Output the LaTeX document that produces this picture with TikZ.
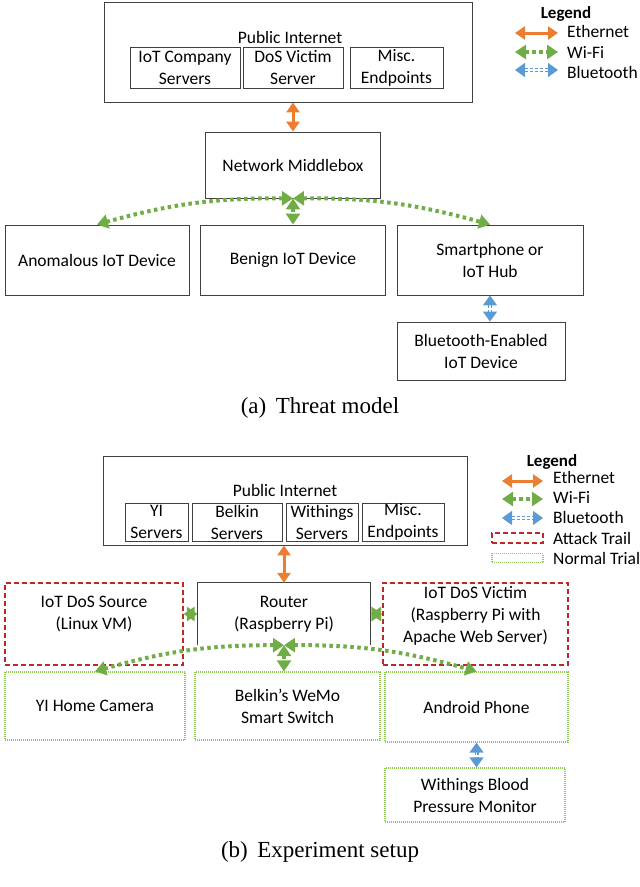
\documentclass[tikz,border=0pt]{standalone}
\usepackage{fontspec}
\setmainfont{Carlito}
\newfontfamily\capfont{Liberation Serif}
\usetikzlibrary{arrows.meta}

\definecolor{ethorange}{RGB}{237,125,49}
\definecolor{wifigreen}{RGB}{112,173,71}
\definecolor{btblue}{RGB}{91,155,213}
\definecolor{attackred}{RGB}{192,40,40}
\definecolor{normalgreen}{RGB}{146,200,90}

\begin{document}
\begin{tikzpicture}[x=1pt, y=-1pt, font=\fontsize{17.5}{22}\selectfont,
  box/.style={draw=black!75, line width=0.9pt, align=center, inner sep=0pt},
  plain/.style={align=center, inner sep=0pt},
  attack/.style={draw=attackred, line width=1.2pt, dash pattern=on 5pt off 3pt, align=center, inner sep=0pt},
  normal/.style={draw=normalgreen, line width=1.2pt, dash pattern=on 1pt off 1pt, align=center, inner sep=0pt},
  ether/.style={draw=ethorange, line width=3pt, {Triangle[width=13pt,length=10pt]}-{Triangle[width=13pt,length=10pt]}},
  wifi/.style={draw=wifigreen, line width=4pt, dash pattern=on 3.5pt off 3.5pt, {Triangle[width=14pt,length=11pt]}-{Triangle[width=14pt,length=11pt]}},
  blue/.style={draw=btblue, line width=1.3pt, double=white, double distance=1.4pt, dash pattern=on 3pt off 2pt, {Triangle[width=14pt,length=10pt]}-{Triangle[width=14pt,length=10pt]}},
  caption/.style={font=\capfont\fontsize{23}{27}\selectfont, inner sep=0pt}]
\useasboundingbox (0,0) rectangle (640,887);

% (a) threat model
\node (inet1) [box, minimum width=368, minimum height=100] at (288,52) {};
\node (inet1lbl) [plain] at (290,37) {Public Internet};
\node (co1) [box, minimum width=110, minimum height=41] at (185,67.5) {IoT Company\\Servers};
\node (dos1) [box, minimum width=100, minimum height=41] at (293,67.5) {DoS Victim\\Server};
\node (misc1) [box, minimum width=93, minimum height=41] at (396.5,67.5) {Misc.\\Endpoints};
\node (mbox) [box, minimum width=175, minimum height=66] at (293,165) {Network Middlebox};
\node (anom) [box, minimum width=184, minimum height=70] at (97,260) {Anomalous IoT Device};
\node (benign) [box, minimum width=185, minimum height=70] at (293,260) {Benign IoT Device};
\node (phone) [box, minimum width=186, minimum height=70] at (490,260) {Smartphone or\\IoT Hub};
\node (bt1) [box, minimum width=168, minimum height=58] at (481,351) {Bluetooth-Enabled\\IoT Device};

\draw [ether] (mbox.north) -- (mbox.north |- inet1.south);
\draw [wifi] (mbox.south) to[bend right=8] (anom.north);
\draw [wifi] (mbox.south) -- (benign.north);
\draw [wifi] (mbox.south) to[bend left=8] (phone.north);
\draw [blue] (phone.south) -- (phone.south |- bt1.north);

\node (capa) [caption] at (320,408) {(a)\, Threat model};

% legend (a)
\node (leg1) [plain, font=\bfseries\fontsize{17}{20}\selectfont] at (566,14) {Legend};
\coordinate (e1a) at (515,33); \coordinate (e1b) at (558,33);
\coordinate (w1a) at (515,52); \coordinate (w1b) at (558,52);
\coordinate (b1a) at (515,70); \coordinate (b1b) at (558,70);
\draw [ether] (e1a) -- (e1b);
\draw [wifi] (w1a) -- (w1b);
\draw [blue] (b1a) -- (b1b);
\node (e1t) [plain, anchor=west] at (567,31) {Ethernet};
\node (w1t) [plain, anchor=west] at (567,52) {Wi-Fi};
\node (b1t) [plain, anchor=west] at (567,72) {Bluetooth};

% (b) experiment setup
\node (inet2) [box, minimum width=364, minimum height=89] at (285,500.5) {};
\node (inet2lbl) [plain] at (285,490) {Public Internet};
\node (yi) [box, minimum width=63, minimum height=38] at (156.5,522) {YI\\Servers};
\node (belk) [box, minimum width=90, minimum height=38] at (237,522) {Belkin\\Servers};
\node (with) [box, minimum width=72, minimum height=38] at (322,522) {Withings\\Servers};
\node (misc2) [box, minimum width=82, minimum height=38] at (403,522) {Misc.\\Endpoints};

\node (router) [plain, minimum width=172, minimum height=62] at (284,614) {Router\\(Raspberry Pi)};
\draw [black!75, line width=0.9pt] (router.south west) -- (router.north west) -- (router.north east) -- (router.south east);
\node (src) [attack, minimum width=178, minimum height=82, text depth=22pt] at (94,624) {IoT DoS Source\\(Linux VM)};
\node (victim) [attack, minimum width=185, minimum height=82, text depth=20pt] at (475.5,624) {IoT DoS Victim\\(Raspberry Pi with\\Apache Web Server)};

\node (cam) [normal, minimum width=180, minimum height=68] at (95,706) {YI Home Camera};
\node (wemo) [normal, minimum width=185, minimum height=68] at (287.5,706) {Belkin's WeMo\\Smart Switch};
\node (android) [normal, minimum width=183, minimum height=70] at (476.5,707) {Android Phone};
\node (bp) [normal, minimum width=180, minimum height=54] at (475,795) {Withings Blood\\Pressure Monitor};

\draw [ether] (router.north) -- (router.north |- inet2.south);
\draw [wifi] (router.west) -- (router.west -| src.east);
\draw [wifi] (router.east) -- (router.east -| victim.west);
\draw [wifi] (router.south) to[bend right=8] (cam.north);
\draw [wifi] (router.south) -- (router.south |- wemo.north);
\draw [wifi] (router.south) to[bend left=8] (android.north);
\draw [blue] (android.south) -- (android.south |- bp.north);

\node (capb) [caption] at (320,852) {(b)\, Experiment setup};

% legend (b)
\node (leg2) [plain, font=\bfseries\fontsize{17}{20}\selectfont] at (552,462) {Legend};
\coordinate (e2a) at (502,481); \coordinate (e2b) at (543,481);
\coordinate (w2a) at (502,499); \coordinate (w2b) at (543,499);
\coordinate (b2a) at (502,518); \coordinate (b2b) at (543,518);
\draw [ether] (e2a) -- (e2b);
\draw [wifi] (w2a) -- (w2b);
\draw [blue] (b2a) -- (b2b);
\node (atk) [attack, minimum width=51, minimum height=10] at (517.5,538) {};
\node (nrm) [normal, minimum width=51, minimum height=9] at (517.5,558) {};
\node (e2t) [plain, anchor=west] at (553,477) {Ethernet};
\node (w2t) [plain, anchor=west] at (553,497) {Wi-Fi};
\node (b2t) [plain, anchor=west] at (553,517) {Bluetooth};
\node (atkt) [plain, anchor=west] at (553,538) {Attack Trail};
\node (nrmt) [plain, anchor=west] at (553,558) {Normal Trial};
\end{tikzpicture}
\end{document}
